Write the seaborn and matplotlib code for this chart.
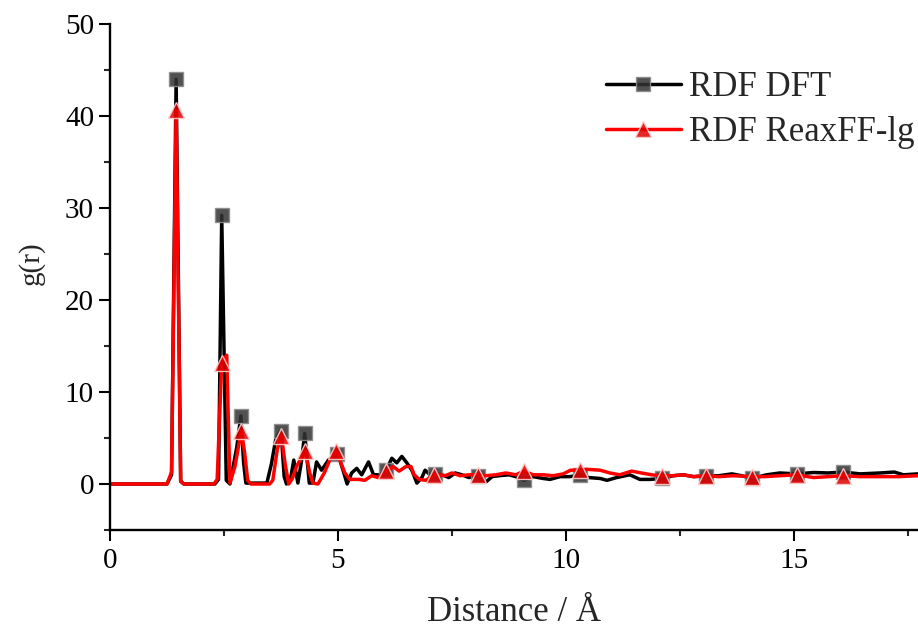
import matplotlib
matplotlib.use("Agg")
import matplotlib.pyplot as plt
from matplotlib.ticker import MultipleLocator
import seaborn as sns
import pandas as pd

# RDF DFT (black, squares)
dft_r = [0.0, 1.25, 1.35, 1.45, 1.55, 1.62, 2.30, 2.38, 2.45, 2.55, 2.63, 2.78, 2.87, 2.93, 2.98,
         3.44, 3.54, 3.64, 3.75, 3.82, 3.87, 3.95, 4.03, 4.12, 4.20, 4.27, 4.37, 4.45, 4.53, 4.64,
         4.79, 4.90, 4.98, 5.04, 5.11, 5.20, 5.30, 5.41, 5.52, 5.67, 5.78, 5.93, 6.06, 6.18, 6.29,
         6.40, 6.51, 6.62, 6.73, 6.84, 6.91, 7.02, 7.12, 7.28, 7.43, 7.57, 7.72, 7.87, 8.06, 8.24,
         8.38, 8.53, 8.75, 8.90, 9.08, 9.28, 9.50, 9.65, 9.87, 10.09, 10.30, 10.50, 10.75, 10.90,
         11.11, 11.40, 11.62, 11.85, 12.10, 12.35, 12.57, 12.80, 13.08, 13.35, 13.64, 13.85, 14.07,
         14.40, 14.69, 15.06, 15.43, 15.75, 16.08, 16.45, 16.89, 17.20, 17.40, 17.72]
dft_g = [0.0, 0.0, 1.0, 44.0, 0.3, 0.0, 0.0, 0.5, 29.2, 0.4, 0.0, 4.0, 7.4, 2.3, 0.1,
         0.1, 2.2, 5.0, 5.8, 0.8, 0.0, 0.3, 2.6, 0.1, 2.5, 5.5, 0.1, 0.1, 2.4, 1.5,
         2.6, 3.0, 3.3, 2.6, 1.5, 0.0, 1.2, 1.7, 1.0, 2.4, 1.0, 1.0, 1.5, 2.8, 2.3,
         3.0, 2.3, 1.5, 0.1, 0.7, 1.5, 1.0, 1.1, 1.0, 0.7, 1.2, 1.0, 0.7, 0.9, 0.2,
         0.8, 0.9, 1.0, 0.8, 0.4, 0.8, 0.6, 0.5, 0.8, 0.8, 1.0, 0.7, 0.6, 0.4,
         0.7, 1.0, 0.5, 0.5, 0.6, 0.9, 1.0, 0.8, 0.9, 0.9, 1.1, 0.9, 0.6,
         1.0, 1.2, 1.1, 1.25, 1.2, 1.3, 1.1, 1.2, 1.3, 1.0, 1.1]
dft_mark_r = [1.45, 2.45, 2.87, 3.75, 4.27, 4.98, 6.06, 7.12, 8.06, 9.08, 10.30,
              12.10, 13.08, 14.07, 15.06, 16.08]

# RDF ReaxFF-lg (red, triangles)
reax_r = [0.0, 1.25, 1.35, 1.45, 1.55, 1.62, 2.28, 2.35, 2.45, 2.56, 2.63, 2.74, 2.88, 2.95, 3.02,
          3.09, 3.50, 3.57, 3.67, 3.76, 3.84, 3.92, 4.00, 4.09, 4.28, 4.38, 4.45, 4.56, 4.70, 4.82,
          4.96, 5.04, 5.15, 5.26, 5.45, 5.59, 5.74, 5.88, 6.06, 6.21, 6.34, 6.49, 6.60, 6.67, 6.78,
          6.93, 7.10, 7.20, 7.35, 7.50, 7.68, 7.87, 8.06, 8.24, 8.46, 8.68, 8.90, 9.08, 9.28, 9.50,
          9.72, 9.94, 10.10, 10.30, 10.45, 10.75, 10.96, 11.18, 11.44, 11.65, 11.88, 12.10, 12.35,
          12.57, 12.80, 13.08, 13.35, 13.67, 14.07, 14.35, 14.69, 15.06, 15.43, 15.75, 16.08, 16.45,
          16.89, 17.30, 17.72]
reax_g = [0.0, 0.0, 1.3, 40.6, 0.3, 0.0, 0.0, 0.5, 13.2, 14.0, 0.1, 1.9, 5.8, 3.5, 0.4,
          0.0, 0.0, 0.4, 3.8, 5.2, 2.2, 0.0, 0.6, 1.9, 3.6, 1.2, 0.1, 0.0, 1.2, 2.6,
          3.6, 2.6, 1.2, 0.5, 0.5, 0.4, 0.9, 0.7, 1.4, 1.9, 1.4, 1.9, 1.9, 1.0, 0.5,
          0.4, 1.0, 1.0, 0.9, 1.2, 0.9, 1.0, 1.0, 0.9, 1.0, 1.2, 1.0, 1.4, 1.0, 1.0,
          0.9, 1.1, 1.5, 1.5, 1.6, 1.5, 1.2, 1.0, 1.4, 1.2, 1.0, 0.9, 0.9,
          1.0, 0.8, 0.9, 0.8, 0.9, 0.8, 0.8, 0.9, 1.0, 0.7, 0.8, 0.9, 0.8,
          0.8, 0.8, 0.9]
reax_mark_r = [1.45, 2.45, 2.88, 3.76, 4.28, 4.96, 6.06, 7.10, 8.06, 9.08, 10.30,
               12.10, 13.08, 14.07, 15.06, 16.08]

df_dft = pd.DataFrame({"r": dft_r, "g": dft_g})
df_reax = pd.DataFrame({"r": reax_r, "g": reax_g})
dft_idx = [dft_r.index(x) for x in dft_mark_r]
reax_idx = [reax_r.index(x) for x in reax_mark_r]

sns.set_style("ticks")
plt.rcParams["font.family"] = ["Liberation Serif", "DejaVu Serif"]

fig = plt.figure(figsize=(9.18, 6.3), dpi=100)
ax = fig.add_axes([110 / 918, 100 / 630, 808 / 918, 506 / 630])

sns.lineplot(data=df_dft, x="r", y="g", ax=ax, color="black", lw=2.5,
             estimator=None, sort=False, marker="s", markevery=dft_idx, markersize=9.5,
             markerfacecolor=(0.2, 0.2, 0.2, 0.85), markeredgecolor=(0.55, 0.55, 0.55, 0.9),
             markeredgewidth=1.0, label="RDF DFT")
sns.lineplot(data=df_reax, x="r", y="g", ax=ax, color="#ff0000", lw=2.5,
             estimator=None, sort=False, marker="^", markevery=reax_idx, markersize=12,
             markerfacecolor=(0.88, 0.0, 0.0, 0.85), markeredgecolor=(1.0, 0.8, 0.8, 0.9),
             markeredgewidth=1.0, label="RDF ReaxFF-lg")

ax.set_xlim(0, 17.72)
ax.set_ylim(-5, 50)
ax.xaxis.set_major_locator(MultipleLocator(5))
ax.xaxis.set_minor_locator(MultipleLocator(2.5))
ax.yaxis.set_major_locator(MultipleLocator(10))
ax.yaxis.set_minor_locator(MultipleLocator(5))
ax.tick_params(which="major", direction="out", length=8, width=1.5, labelsize=21, colors="black")
ax.tick_params(which="minor", direction="out", length=4.5, width=1.5)
for side in ["top", "right"]:
    ax.spines[side].set_visible(False)
for side in ["left", "bottom"]:
    ax.spines[side].set_linewidth(1.7)
    ax.spines[side].set_color("black")
ax.tick_params(axis="x", pad=5)

ax.set_xlabel("Distance / Å", fontsize=25, labelpad=16)
ax.set_ylabel("g(r)", fontsize=21)
ax.yaxis.set_label_coords(-0.081, 0.528)

ax.legend(loc="upper left", bbox_to_anchor=(0.5965, 0.934), frameon=False, fontsize=25,
          handlelength=2.15, handletextpad=0.25, labelspacing=0.33, borderaxespad=0)

fig.savefig("out.png", dpi=100)
